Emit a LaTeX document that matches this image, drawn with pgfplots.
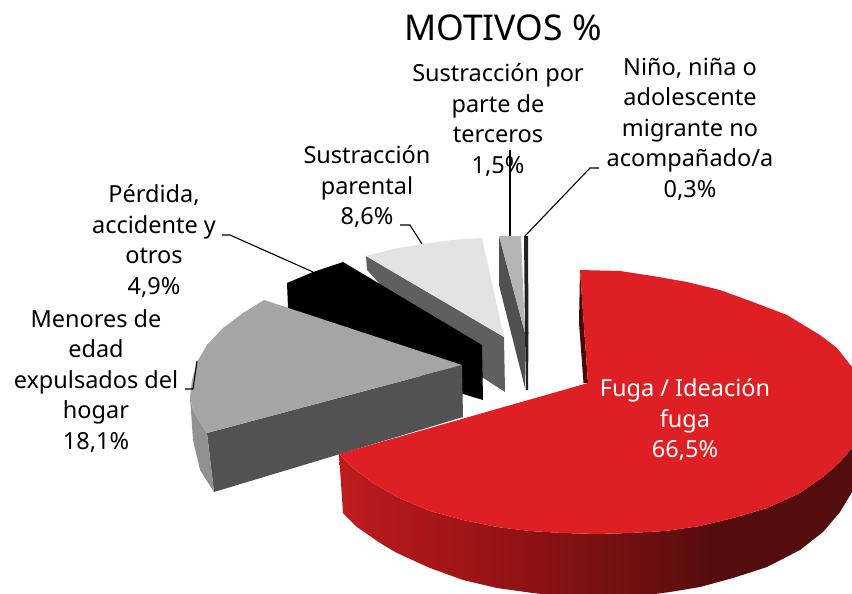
\documentclass[border=0pt]{standalone}
\usepackage{pgfplots}
\pgfplotsset{compat=1.18}
\usepackage{fontspec}
\setmainfont{Noto Sans}
\definecolor{redtop}{RGB}{222,32,36}
\pgfdeclarehorizontalshading{redwall}{100bp}{rgb(0bp)=(0.745,0.11,0.118); rgb(25bp)=(0.745,0.11,0.118); rgb(35bp)=(0.647,0.086,0.094); rgb(44bp)=(0.55,0.07,0.08); rgb(55bp)=(0.42,0.059,0.063); rgb(62bp)=(0.33,0.047,0.055); rgb(100bp)=(0.33,0.047,0.055)}
\tikzset{lab/.style={align=center,font=\fontsize{23.5}{30.5}\selectfont,text=black}}
\begin{document}
\begin{tikzpicture}
\useasboundingbox (0,0) rectangle (852pt,594pt);
\begin{axis}[hide axis,scale only axis,width=852pt,height=594pt,xmin=0,xmax=852,ymin=0,ymax=594,y dir=reverse,
  clip=true, anchor=south west, at={(0,0)}]
% light slice
\addplot[fill={rgb,255:red,95;green,95;blue,95},draw=none] coordinates {(366,256)(504,337)(505,392)(440,350)(367,270)};
\addplot[fill={rgb,255:red,227;green,227;blue,227},draw=none] coordinates {(366,256)(393,249)(422,244)(452,240)(482,238)(504,337)};
% small slice
\addplot[fill={rgb,255:red,80;green,80;blue,80},draw=none] coordinates {(499,236)(499,285)(525,388)(525,333)};
\addplot[fill={rgb,255:red,181;green,181;blue,181},draw=none] coordinates {(499,236)(521,236)(525,333)};
% tiny
\addplot[fill={rgb,255:red,34;green,34;blue,34},draw=none] coordinates {(524,236)(528,236)(528.5,333)(528,390)(526,390)(525,333)};
% black
\addplot[fill=black,draw=none] coordinates {(287,283)(313,272)(343,262)(482,345)(483,400)(450,390)(288,308)};
% grey
\addplot[fill={rgb,255:red,82;green,82;blue,82},draw=none] coordinates {(207,433)(462,365)(463,417)(214,492)};
\addplot[fill={rgb,255:red,145;green,145;blue,145},draw=none] coordinates {(190,397)(193,410)(200,423)(207,433)(214,492)(200,470)(193,440)};
\addplot[fill={rgb,255:red,165;green,165;blue,165},draw=none] coordinates {(264,300)(243,313)(223,328)(207,345)(197,362)(192,380)(190,397)(193,410)(200,423)(207,433)(462,365)};
% red inner
\addplot[fill={rgb,255:red,74;green,8;blue,8},draw=none] coordinates {(580,270)(579,323)(583.5,383)(588,383)};
% red outer wall
\addplot[draw=none,shade,shading=redwall] coordinates {(339,454)(343,513)(357,527)(380,543)(397,553)(430,568)(463,580)(497,588)(533,593)(560,596)(600,598)(640,596)(670,592)(700,587)(733,578)(767,567)(800,550)(823,532)(840,512)(852,492)(852,448)(840,462)(823,477)(800,493)(767,508)(733,518)(700,526)(665,531)(630,533)(597,534)(563,533)(530,531)(497,527)(463,520)(430,511)(397,497)(373,483)(353,468)};
% red top
\addplot[fill=redtop,draw=none] coordinates {(580,270)(620,271)(653,276)(687,282)(720,290)(753,302)(787,315)(820,335)(837,348)(852,367)(852,448)(840,462)(823,477)(800,493)(767,508)(733,518)(700,526)(665,531)(630,533)(597,534)(563,533)(530,531)(497,527)(463,520)(430,511)(397,497)(373,483)(353,468)(339,454)(588,383)};
% leaders
\addplot[black,line width=1.1pt] coordinates {(222,235)(230,235)(313,272)};
\addplot[black,line width=1.1pt] coordinates {(400,225)(410,225)(422,244)};
\addplot[black,line width=1.1pt] coordinates {(510,150)(510,236)};
\addplot[black,line width=1.1pt] coordinates {(599,168)(590,168)(525,236)};
\addplot[black,line width=1.1pt] coordinates {(185,389)(193,389)(197,361)};
% text
\node[lab,font=\fontsize{35.5}{40}\selectfont] at (axis cs:503,28) {MOTIVOS \%};
\node[lab] at (axis cs:498,120) {Sustracción por\\parte de\\terceros\\1,5\%};
\node[lab] at (axis cs:690,129) {Niño, niña o\\adolescente\\migrante no\\acompañado/a\\0,3\%};
\node[lab] at (axis cs:367,187) {Sustracción\\parental\\8,6\%};
\node[lab] at (axis cs:154,241) {Pérdida,\\accidente y\\otros\\4,9\%};
\node[lab] at (axis cs:96,381) {Menores de\\edad\\expulsados del\\hogar\\18,1\%};
\node[lab,text=white] at (axis cs:685,420) {Fuga / Ideación\\fuga\\66,5\%};
\end{axis}
\end{tikzpicture}
\end{document}
